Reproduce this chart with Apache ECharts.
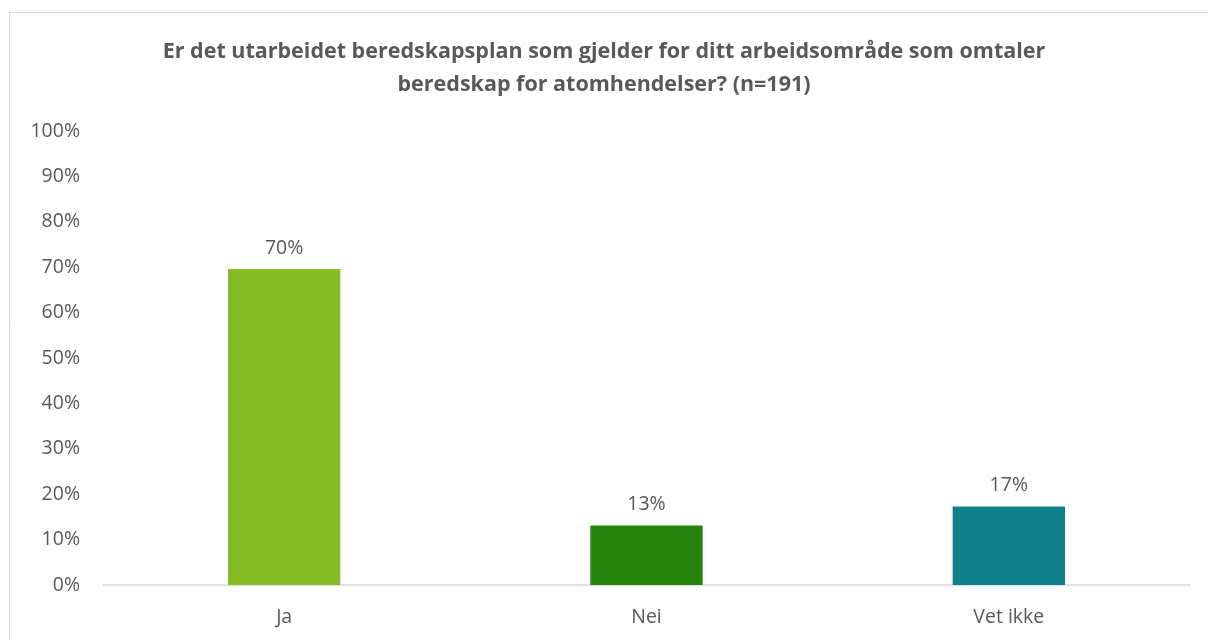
<!DOCTYPE html>
<html>
<head>
<meta charset="utf-8">
<script src="https://cdn.jsdelivr.net/npm/echarts@6/dist/echarts.min.js"></script>
<style>
html,body{margin:0;padding:0;background:#fff;}
#chart{width:1208px;height:640px;}
</style>
</head>
<body>
<div id="chart"></div>
<script>
const titleText = "Er det utarbeidet beredskapsplan som gjelder for ditt arbeidsområde som omtaler\nberedskap for atomhendelser? (n=191)";
const categories = ["Ja", "Nei", "Vet ikke"];
const values = [69.6, 13.1, 17.3];
const barColors = ["#86BC25", "#26850F", "#0E808A"];
const yTicks = [0, 10, 20, 30, 40, 50, 60, 70, 80, 90, 100];

const font = "'Open Sans', 'Liberation Sans', sans-serif";
const chart = echarts.init(document.getElementById('chart'), null, {renderer: 'canvas'});
chart.setOption({
  backgroundColor: '#fff',
  animation: false,
  graphic: [{
    type: 'rect',
    shape: {x: 9.5, y: 12.5, width: 1220, height: 660},
    style: {fill: 'none', stroke: '#d9d9d9', lineWidth: 1},
    silent: true
  }],
  title: {
    text: titleText,
    left: 'center',
    top: 30,
    textStyle: {
      fontFamily: font, fontSize: 21.5, fontWeight: 'bold', color: '#595959', lineHeight: 33
    }
  },
  grid: {left: 103, right: 18, top: 131, bottom: 55},
  xAxis: {
    type: 'category',
    data: categories,
    axisLine: {show: true, lineStyle: {color: '#d9d9d9', width: 1.5}},
    axisTick: {show: false},
    axisLabel: {fontFamily: font, fontSize: 19.5, color: '#595959', margin: 22}
  },
  yAxis: {
    type: 'value',
    min: yTicks[0],
    max: yTicks[yTicks.length - 1],
    interval: 10,
    splitLine: {show: false},
    axisLine: {show: false},
    axisTick: {show: false},
    axisLabel: {fontFamily: font, fontSize: 19.5, color: '#595959', margin: 23,
      formatter: v => v + '%'}
  },
  series: [{
    type: 'bar',
    barWidth: '31%',
    data: values.map((v, i) => ({value: v, itemStyle: {color: barColors[i]}})),
    label: {
      show: true, position: 'top', distance: 11,
      fontFamily: font, fontSize: 19.5, color: '#595959',
      formatter: p => Math.round(p.value) + '%'
    }
  }]
});
</script>
</body>
</html>
